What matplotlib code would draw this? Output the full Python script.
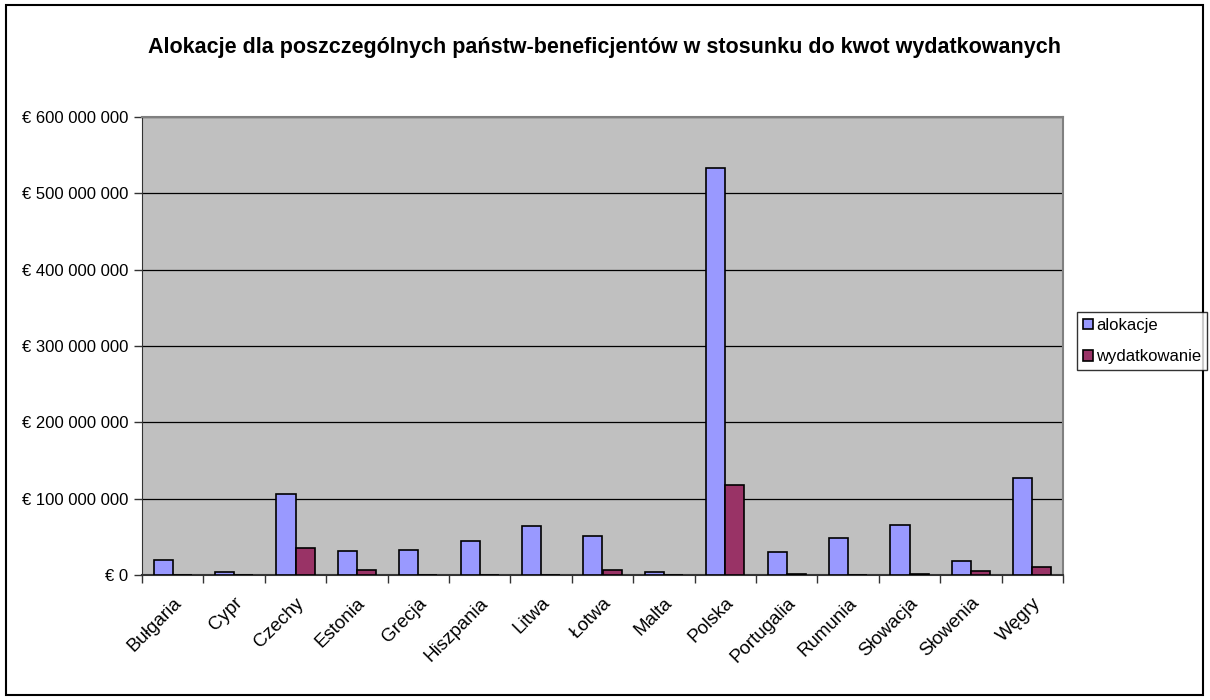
import matplotlib.pyplot as plt
import numpy as np
from matplotlib.patches import Rectangle

plt.rcParams['font.family'] = ['Liberation Sans', 'DejaVu Sans']

# --- data (EUR) ---
countries = ["Bułgaria", "Cypr", "Czechy", "Estonia", "Grecja", "Hiszpania", "Litwa",
             "Łotwa", "Malta", "Polska", "Portugalia", "Rumunia", "Słowacja",
             "Słowenia", "Węgry"]
alokacje = [20e6, 4e6, 106e6, 31e6, 33e6, 44e6, 64e6, 51e6, 4e6, 533e6,
            30.5e6, 48e6, 66e6, 18e6, 127.5e6]
wydatkowanie = [0, 0, 35e6, 7e6, 0, 0, 0, 7e6, 0, 118e6,
                1.5e6, 0, 1.5e6, 5e6, 11e6]
y_ticks = [0, 100e6, 200e6, 300e6, 400e6, 500e6, 600e6]

fig = plt.figure(figsize=(12.1, 7.0), dpi=100)
ax = fig.add_axes([142/1210, 1 - 575/700, (1063-142)/1210, (575-117)/700])

x = np.arange(len(countries)) + 0.5
w = 0.31
ax.bar(x - w/2, alokacje, w, color="#9999FF", edgecolor="black", linewidth=1.2,
       label="alokacje", zorder=3)
ax.bar(x + w/2, wydatkowanie, w, color="#993366", edgecolor="black", linewidth=1.2,
       label="wydatkowanie", zorder=3)

ax.set_facecolor("#C0C0C0")
ax.set_xlim(0, len(countries))
ax.set_ylim(0, 600e6)
ax.set_yticks(y_ticks)
ax.set_yticklabels(["€ 0" if v == 0 else "€ " + f"{int(v):,}".replace(",", " ") for v in y_ticks],
                   fontsize=12)
ax.yaxis.grid(True, color="black", linewidth=0.9, zorder=1)
ax.set_axisbelow(True)

# ticks at category boundaries, labels at centres
ax.set_xticks(np.arange(len(countries) + 1))
ax.set_xticklabels([])
ax.set_xticks(x, minor=True)
ax.set_xticklabels(countries, minor=True, rotation=45, ha="right",
                   rotation_mode="anchor", fontsize=13.5)
ax.tick_params(axis="x", which="minor", length=0, pad=14)
ax.tick_params(axis="x", which="major", length=6, width=1, color="#333333")
ax.tick_params(axis="y", length=6, width=1, color="#333333", pad=4)

for s in ["top", "right"]:
    ax.spines[s].set_color("#808080")
    ax.spines[s].set_linewidth(1.5)
ax.spines["left"].set_color("#333333")
ax.spines["bottom"].set_color("#333333")
ax.spines["bottom"].set_linewidth(1.5)

fig.text(0.5, 1 - 47/700, "Alokacje dla poszczególnych państw-beneficjentów w stosunku do kwot wydatkowanych",
         ha="center", va="center", fontsize=15.5, fontweight="bold")

leg = fig.legend(loc="upper left", bbox_to_anchor=(1077/1210, 1 - 312/700),
                 fontsize=12, frameon=True, fancybox=False, handlelength=0.6,
                 handleheight=0.6, handletextpad=0.2, borderpad=0.35,
                 labelspacing=1.0, borderaxespad=0)
leg.get_frame().set_edgecolor("black")
leg.get_frame().set_linewidth(1.0)

fig.patches.append(Rectangle((6/1210, 5/700), 1197/1210, 690/700, transform=fig.transFigure,
                             fill=False, edgecolor="black", linewidth=1.5))

fig.savefig("out.png", dpi=100)
